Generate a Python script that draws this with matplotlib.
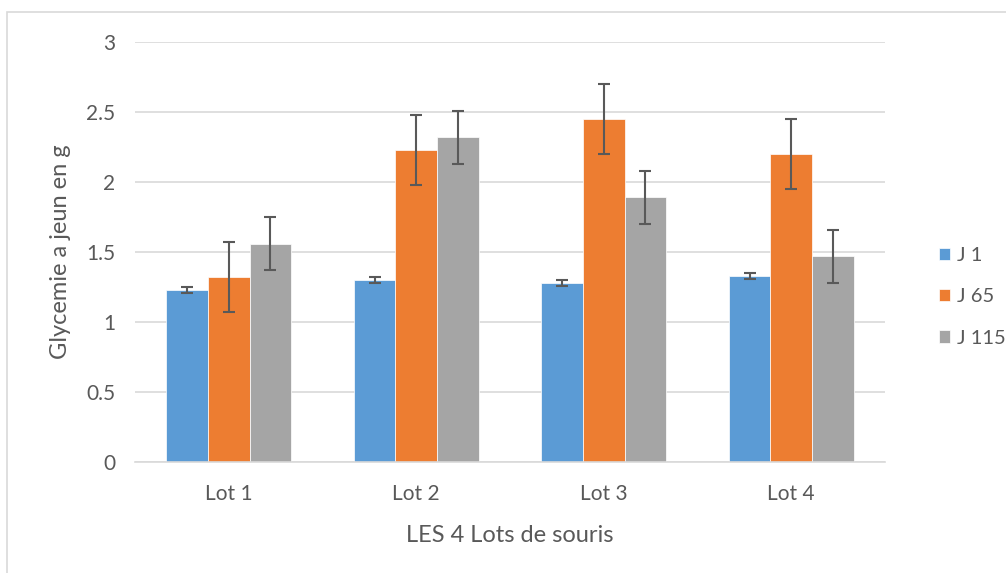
import numpy as np
import matplotlib.pyplot as plt
from matplotlib.patches import Rectangle

plt.rcParams['font.family'] = ['Lato', 'DejaVu Sans']

lots = ["Lot 1", "Lot 2", "Lot 3", "Lot 4"]
series = ["J 1", "J 65", "J 115"]
j1 = [1.23, 1.30, 1.28, 1.33]
j65 = [1.32, 2.23, 2.45, 2.20]
j115 = [1.56, 2.32, 1.89, 1.47]
err_j1 = [0.02, 0.02, 0.02, 0.02]
err_j65 = [0.25, 0.25, 0.25, 0.25]
err_j115 = [0.19, 0.19, 0.19, 0.19]

colors = ["#5b9bd5", "#ed7d31", "#a5a5a5"]
text_col = "#595959"

fig = plt.figure(figsize=(10.06, 5.73), dpi=100)
ax = fig.add_axes([135/1006, 1-462/573, 750/1006, 420/573])

# outer chart border (only top and left are visible in the crop)
fig.patches.append(Rectangle((7/1006, -0.1), 1.2, (573-12)/573 + 0.1,
                             transform=fig.transFigure, fill=False,
                             edgecolor="#d9d9d9", linewidth=1.2))

x = np.arange(len(lots))
w = 0.222
vals = [j1, j65, j115]
errs = [err_j1, err_j65, err_j115]
for i in range(3):
    ax.bar(x + (i-1)*w, vals[i], w, color=colors[i], label=series[i],
           edgecolor="white", linewidth=0.5, zorder=2)
    ax.errorbar(x + (i-1)*w, vals[i], yerr=errs[i], fmt='none',
                ecolor="#595959", elinewidth=1.5, capsize=4.5, capthick=1.5, zorder=3)

ax.set_xlim(-0.5, 3.5)
ax.set_ylim(0, 3)
ax.set_yticks([0, 0.5, 1, 1.5, 2, 2.5, 3])
ax.set_yticklabels(["0", "0.5", "1", "1.5", "2", "2.5", "3"])
ax.set_xticks(x)
ax.set_xticklabels(lots)
ax.grid(axis='y', color="#d9d9d9", linewidth=1.2, zorder=0)
ax.set_axisbelow(True)
for s in ["top", "right", "left"]:
    ax.spines[s].set_visible(False)
ax.spines["bottom"].set_color("#d9d9d9")
ax.spines["bottom"].set_linewidth(1.2)
ax.tick_params(length=0, labelsize=15, labelcolor=text_col)
ax.tick_params(axis='x', pad=16)
ax.tick_params(axis='y', pad=14)

ax.set_xlabel("LES 4 Lots de souris", fontsize=17, color=text_col, labelpad=15)
ax.set_ylabel("Glycemie a jeun en g", fontsize=17, color=text_col, labelpad=11)

ax.legend(loc='center left', bbox_to_anchor=(1.058, 0.393), frameon=False,
          fontsize=14.5, labelcolor=text_col, handlelength=0.55, handleheight=0.55,
          labelspacing=1.2, handletextpad=0.35, borderpad=0)

fig.savefig("out.png", dpi=100)
